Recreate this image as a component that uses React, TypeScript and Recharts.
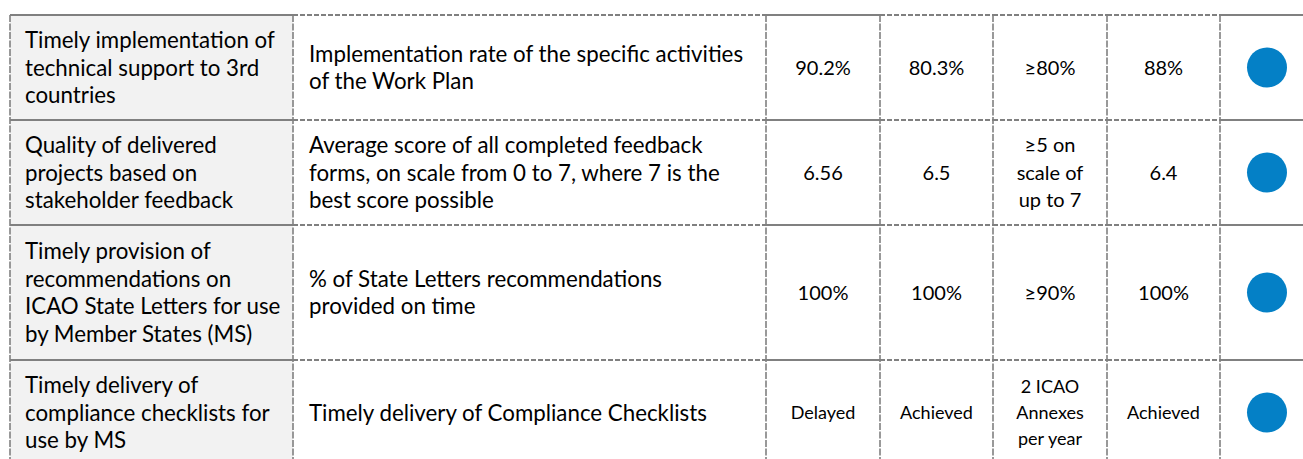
import { ScatterChart, Scatter, XAxis, YAxis, ReferenceLine, ReferenceArea } from "recharts";

// table content, one entry per row
const objectives = [
  ["Timely implementation of", "technical support to 3rd", "countries"],
  ["Quality of delivered", "projects based on", "stakeholder feedback"],
  ["Timely provision of", "recommendations on", "ICAO State Letters for use", "by Member States (MS)"],
  ["Timely delivery of", "compliance checklists for", "use by MS"],
];
const indicators = [
  ["Implementation rate of the specific activities", "of the Work Plan"],
  ["Average score of all completed feedback", "forms, on scale from 0 to 7, where 7 is the", "best score possible"],
  ["% of State Letters recommendations", "provided on time"],
  ["Timely delivery of Compliance Checklists"],
];
const result2021 = ["90.2%", "6.56", "100%", "Delayed"];
const result2022 = ["80.3%", "6.5", "100%", "Achieved"];
const targets = [["≥80%"], ["≥5 on", "scale of", "up to 7"], ["≥90%"], ["2 ICAO", "Annexes", "per year"]];
const result2023 = ["88%", "6.4", "100%", "Achieved"];
const status = ["achieved", "achieved", "achieved", "achieved"];

const statusColor: Record<string, string> = { achieved: "#0480c6" };

const W = 1303;
const H = 459;
const COLS = [10, 293, 766, 880, 993, 1107, 1220, 1303];
const ROWS = [15, 120, 225, 360, 465];
const LINE = "#808080";
const FONT = "Lato, 'Noto Sans', sans-serif";

const rowMid = (r: number) => (ROWS[r] + ROWS[r + 1]) / 2;
const colMid = (c: number) => (COLS[c] + COLS[c + 1]) / 2;

// text sizes: long text, numbers, and the word values of the last row
type Size = "text" | "num" | "small";
const SIZES: Record<Size, { fs: number; pitch: number }> = {
  text: { fs: 22.3, pitch: 27.5 },
  num: { fs: 20, pitch: 27.5 },
  small: { fs: 18, pitch: 26 },
};

type Cell = { x: number; y: number; lines: string[]; anchor: "start" | "middle"; size: Size };

const cells: Cell[] = [];
objectives.forEach((_, r) => {
  const size: Size = r === 3 ? "small" : "num";
  cells.push({ x: COLS[0] + 15, y: rowMid(r), lines: objectives[r], anchor: "start", size: "text" });
  cells.push({ x: COLS[1] + 16, y: rowMid(r), lines: indicators[r], anchor: "start", size: "text" });
  cells.push({ x: colMid(2), y: rowMid(r), lines: [result2021[r]], anchor: "middle", size });
  cells.push({ x: colMid(3), y: rowMid(r), lines: [result2022[r]], anchor: "middle", size });
  cells.push({ x: colMid(4), y: rowMid(r), lines: targets[r], anchor: "middle", size });
  cells.push({ x: colMid(5), y: rowMid(r), lines: [result2023[r]], anchor: "middle", size });
});

const dots = status.map((s, r) => ({ x: COLS[6] + 47, y: rowMid(r), s }));

const CellText = (p: any) => {
  const d: Cell = p.payload;
  const { fs, pitch } = SIZES[d.size];
  const n = d.lines.length;
  return (
    <text textAnchor={d.anchor} fontFamily={FONT} fontSize={fs} fill="#000">
      {d.lines.map((l, i) => (
        <tspan key={i} x={p.cx} y={p.cy + (i - (n - 1) / 2) * pitch + fs * 0.36}>
          {l}
        </tspan>
      ))}
    </text>
  );
};

const Dot = (p: any) => <circle cx={p.cx} cy={p.cy} r={20} fill={statusColor[p.payload.s]} />;

// solid rules in the first, third and last columns, dashed elsewhere
const solidCol = (c: number) => c === 0 || c === 2 || c === 6;

export default function App() {
  const hLines: JSX.Element[] = [];
  ROWS.slice(0, 4).forEach((y, r) => {
    for (let c = 0; c < COLS.length - 1; c++) {
      hLines.push(
        <ReferenceLine
          key={`h${r}-${c}`}
          segment={[{ x: COLS[c], y }, { x: COLS[c + 1], y }]}
          stroke={LINE}
          strokeWidth={2}
          strokeDasharray={solidCol(c) ? undefined : "5 2"}
        />
      );
    }
  });
  const vLines = COLS.slice(0, 7).map((x, i) => (
    <ReferenceLine
      key={`v${i}`}
      segment={[{ x, y: ROWS[0] }, { x, y: H }]}
      stroke={LINE}
      strokeWidth={1.6}
      strokeDasharray="7 1.5"
    />
  ));

  return (
    <div style={{ position: "absolute", left: 0, top: 0, width: W, height: H, background: "#fff" }}>
      <ScatterChart width={W} height={H} margin={{ top: 0, right: 0, bottom: 0, left: 0 }}>
        <XAxis type="number" dataKey="x" domain={[0, W]} hide />
        <YAxis type="number" dataKey="y" domain={[0, H]} reversed hide />
        <ReferenceArea x1={COLS[0]} x2={COLS[1]} y1={ROWS[0]} y2={H} fill="#f2f2f2" fillOpacity={1} stroke="none" />
        {hLines}
        {vLines}
        <Scatter data={cells} shape={CellText} isAnimationActive={false} />
        <Scatter data={dots} shape={Dot} isAnimationActive={false} />
      </ScatterChart>
    </div>
  );
}
